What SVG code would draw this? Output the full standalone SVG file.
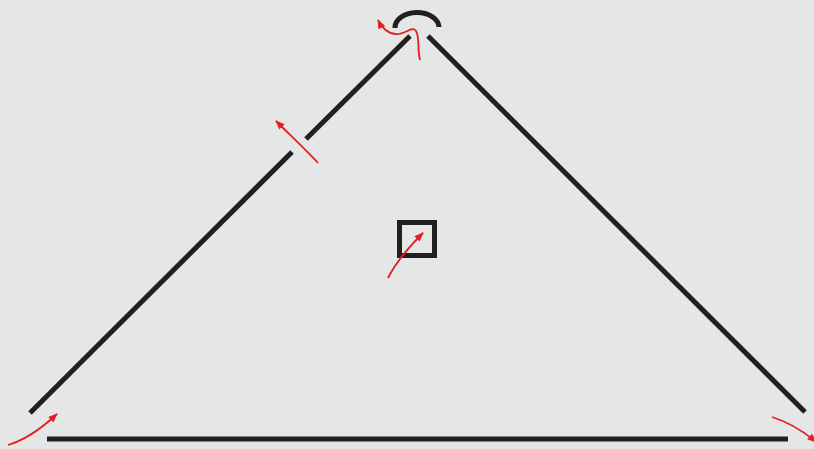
<svg xmlns="http://www.w3.org/2000/svg" width="814" height="449" viewBox="0 0 814 449">
<style>
.w{stroke:#231f20;stroke-width:5;fill:none}
.r{stroke:#e31e24;stroke-width:1.8;fill:none;marker-end:url(#ah)}
</style>
<defs>
<marker id="ah" viewBox="0 0 10 8" refX="9" refY="4" markerWidth="10" markerHeight="7.5" markerUnits="userSpaceOnUse" orient="auto">
<path d="M0,0 L10,4 L0,8 Z" fill="#e31e24"/>
</marker>
</defs>
<rect width="814" height="449" fill="#e5e6e6"/>
<g id="building">
<line class="w" x1="30" y1="413" x2="292" y2="152"/>
<line class="w" x1="306" y1="139" x2="410" y2="36"/>
<line class="w" x1="428" y1="36" x2="805" y2="412"/>
<line class="w" x1="47" y1="439" x2="788" y2="439"/>
<path class="w" d="M395,28 A22,15 0 0 1 439,27"/>
<rect class="w" x="399.5" y="222.5" width="35" height="33"/>
</g>
<g id="connectors">
<path class="r" d="M420,60 C417,48 420,38 416,31 C412,25 404,36 395,34 C387,33 382,28 378,20"/>
<path class="r" d="M318,163 C306,150 290,135 276,121"/>
<path class="r" d="M388,278 C396,262 408,248 423,233"/>
<path class="r" d="M8,445 C25,440 42,428 57,414"/>
<path class="r" d="M772,417 C788,422 802,430 816,442"/>
</g>
</svg>
